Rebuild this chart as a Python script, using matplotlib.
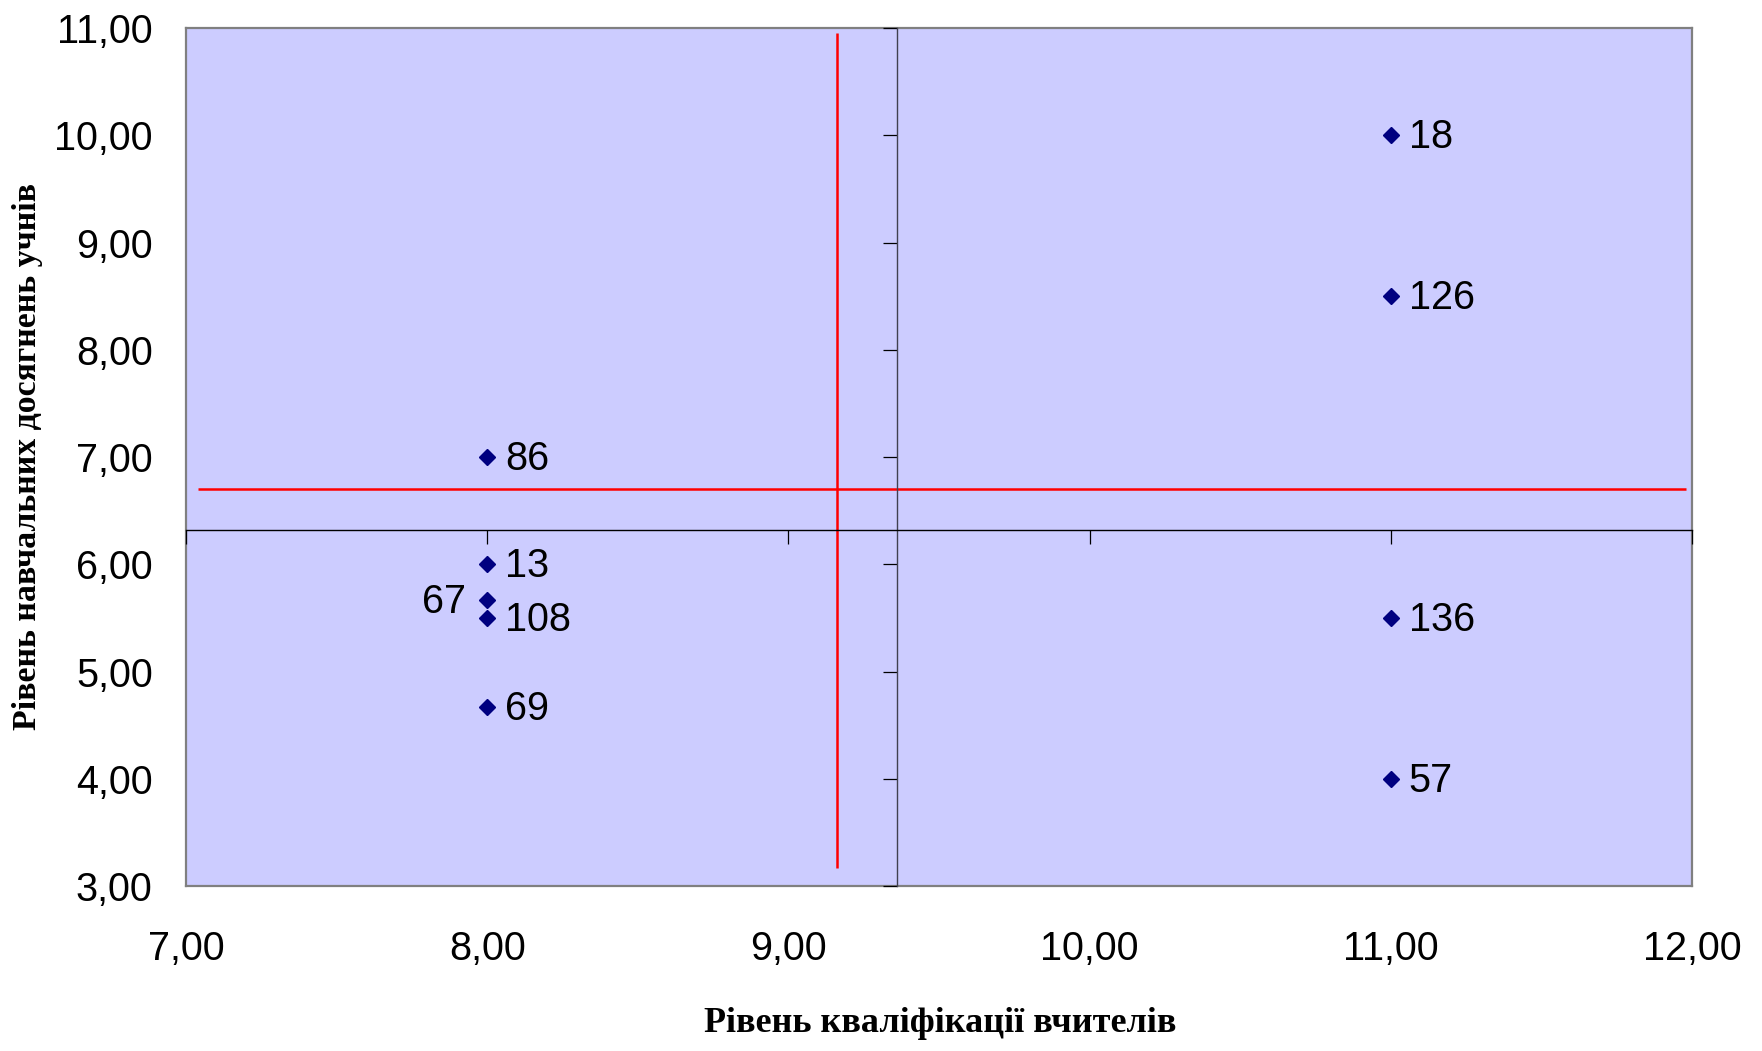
import matplotlib.pyplot as plt

# Data: teacher qualification (x) vs student achievement (y)
school_ids = ['86', '13', '67', '108', '69', '18', '126', '136', '57']
qualification = [8.0, 8.0, 8.0, 8.0, 8.0, 11.0, 11.0, 11.0, 11.0]
achievement = [7.0, 6.0, 5.67, 5.5, 4.67, 10.0, 8.5, 5.5, 4.0]
label_side = ['r', 'r', 'l', 'r', 'r', 'r', 'r', 'r', 'r']

# axis crossing point and red guide lines
cross_x, cross_y = 9.36, 6.32
red_x, red_x_span = 9.16, (3.17, 10.95)
red_y, red_y_span = 6.70, (7.04, 11.98)

x_ticks = [7, 8, 9, 10, 11, 12]
y_ticks = [3, 4, 5, 6, 7, 8, 9, 10, 11]

plt.rcParams['font.family'] = ['Liberation Sans', 'DejaVu Sans']

W, H = 1762, 1051
fig = plt.figure(figsize=(W / 100, H / 100), dpi=100)
rect = [186 / W, 1 - 886 / H, 1506 / W, 858 / H]
ax = fig.add_axes(rect)
ax.set_facecolor('#CCCCFF')
ax.set_xlim(7, 12)
ax.set_ylim(3, 11)
for s in ax.spines.values():
    s.set_color('#808080')
    s.set_linewidth(1.6)

fmt = lambda v: f'{v:.2f}'.replace('.', ',')
ax.set_xticks(x_ticks)
ax.set_xticklabels([fmt(v) for v in x_ticks])
ax.set_yticks(y_ticks)
ax.set_yticklabels([fmt(v) for v in y_ticks])
ax.tick_params(axis='x', length=0, pad=32, labelsize=28.5)
ax.tick_params(axis='y', length=0, pad=24, labelsize=28.5)

# crossing axes drawn on an overlay
ax2 = fig.add_axes(rect, sharex=ax, sharey=ax)
ax2.patch.set_visible(False)
ax2.spines['top'].set_visible(False)
ax2.spines['right'].set_visible(False)
ax2.spines['left'].set_position(('data', cross_x))
ax2.spines['bottom'].set_position(('data', cross_y))
ax2.spines['left'].set_color('#404050')
ax2.spines['bottom'].set_color('black')
ax2.spines['left'].set_linewidth(1.0)
ax2.spines['bottom'].set_linewidth(1.0)
ax2.tick_params(direction='out', length=10, width=0.9, labelleft=False, labelbottom=False)

# red guide lines
ax.vlines(red_x, *red_x_span, color='red', lw=1.8, zorder=2)
ax.hlines(red_y, *red_y_span, color='red', lw=1.8, zorder=2)

# points and labels
ax.plot(qualification, achievement, linestyle='none', marker='D',
        markersize=8.3, color='#000080', zorder=4)
for sid, xv, yv, side in zip(school_ids, qualification, achievement, label_side):
    if side == 'r':
        ax.annotate(sid, (xv, yv), xytext=(13, -1.5), textcoords='offset points',
                    ha='left', va='center', fontsize=28.5, zorder=5)
    else:
        ax.annotate(sid, (xv, yv), xytext=(-15, -1.5), textcoords='offset points',
                    ha='right', va='center', fontsize=28.5, zorder=5)

serif = ['Liberation Serif', 'DejaVu Serif']
fig.text(940 / W, 1 - 1024 / H, 'Рівень кваліфікації вчителів',
         ha='center', va='center', family=serif, fontweight='bold', fontsize=26)
fig.text(28 / W, 1 - 457 / H, 'Рівень навчальних досягнень учнів',
         ha='center', va='center', rotation=90, family=serif, fontweight='bold', fontsize=24.4)

fig.savefig('out.png', dpi=100)
